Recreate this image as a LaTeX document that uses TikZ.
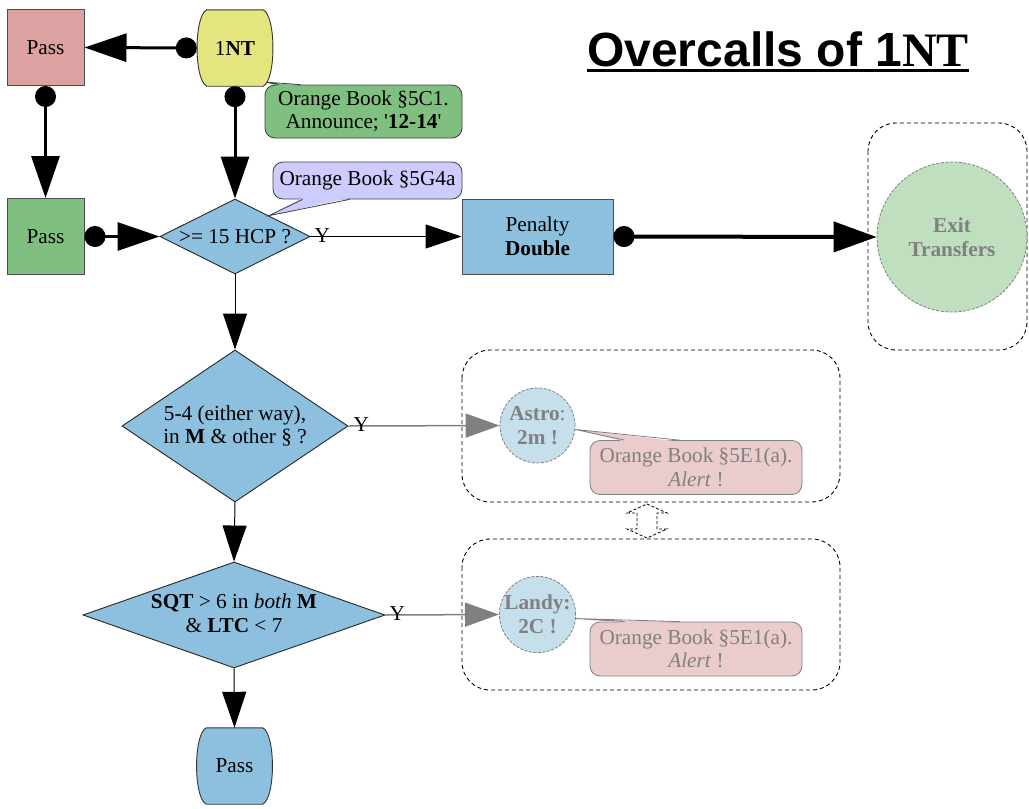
\documentclass[tikz,border=0pt]{standalone}
\usepackage{fontspec}
\setmainfont{Liberation Serif}
\newfontfamily\titlesans{Liberation Sans}
\usetikzlibrary{arrows.meta,shapes.geometric,backgrounds,calc}

\definecolor{passpink}{HTML}{DCA1A1}
\definecolor{ntyellow}{HTML}{E5E57F}
\definecolor{okgreen}{HTML}{7FBF7F}
\definecolor{qblue}{HTML}{8DC0DE}
\definecolor{notelav}{HTML}{CCCCFF}
\definecolor{exitgreen}{HTML}{BFDFBF}
\definecolor{convblue}{HTML}{C5DFEB}
\definecolor{alertpink}{HTML}{EBCCCC}
\definecolor{dimtext}{HTML}{808080}

\tikzset{
  txt/.style={font=\fontsize{21.25}{23.5}\selectfont, align=center, inner sep=0pt},
  box/.style={txt, draw=black!70, line width=1pt, minimum width=77pt, minimum height=76pt},
  decision/.style={draw=black!85, line width=0.9pt, fill=qblue, diamond, inner sep=0pt},
  barrelnode/.style={txt, minimum width=76pt, minimum height=76pt},
  barrelline/.style={draw=black!80, line width=0.9pt},
  convcircle/.style={txt, circle, draw=dimtext, dash pattern=on 3pt off 1.5pt, line width=0.8pt,
    fill=convblue, text=dimtext, minimum size=75pt, font=\bfseries\fontsize{21.25}{23.5}\selectfont},
  notebox/.style={txt, rectangle, rounded corners=10pt, draw=black!75, line width=0.8pt},
  alertbox/.style={notebox, fill=alertpink, draw=dimtext, text=dimtext, minimum width=212pt, minimum height=54pt},
  group/.style={draw=black, dash pattern=on 4pt off 3pt, rounded corners=28pt, line width=0.9pt},
  thickarr/.style={line width=3pt, {Circle[length=21pt]}-{Triangle[length=42pt,width=28pt]}},
  widearr/.style={line width=4pt, {Circle[length=21pt]}-{Triangle[length=43pt,width=30pt]}},
  thinarr/.style={line width=1pt, -{Triangle[length=36pt,width=24pt]}},
  grayarr/.style={line width=1.5pt, draw=dimtext, -{Triangle[length=34pt,width=24pt,fill=dimtext]}},
  ylab/.style={txt, anchor=west},
}

\begin{document}
\begin{tikzpicture}[x=1pt,y=-1pt]
\useasboundingbox (0,0) rectangle (1029,809);

% title
\node[inner sep=0pt, anchor=base] (title) at (778,66)
  {\fontsize{48}{52}\selectfont\bfseries{\titlesans Overcalls of 1}NT};
\draw[line width=3pt] ([yshift=-4.5pt]title.base west) -- ([yshift=-4.5pt]title.base east);

% dashed groups
\draw[group] (868,123) rectangle (1027,350);
\draw[group] (462,350) rectangle (840,502);
\draw[group] (462,539) rectangle (840,690);
% hollow double arrow between the two convention groups
\draw[line width=0.8pt, dash pattern=on 3pt off 2pt]
  (647,504) -- (667,513) -- (657,513) -- (657,529) -- (667,529) -- (647,538)
  -- (627,529) -- (637,529) -- (637,513) -- (627,513) -- cycle;

% opening bid and passes
\node[box, fill=passpink] (p1) at (45.5,47.5) {Pass};
\node[barrelnode] (nt) at (235,48) {1\textbf{NT}};
\node[box, fill=okgreen] (p2) at (45.5,236.5) {Pass};
\node[barrelnode] (pb) at (234.5,766) {Pass};

\begin{scope}[on background layer]
  \path[barrelline, fill=ntyellow]
    ([xshift=-10pt]nt.north east) .. controls ([xshift=3pt,yshift=-6pt]nt.north east) and ([xshift=3pt,yshift=6pt]nt.south east) .. ([xshift=-10pt]nt.south east)
    -- ([xshift=10pt]nt.south west) .. controls ([xshift=-3pt,yshift=6pt]nt.south west) and ([xshift=-3pt,yshift=-6pt]nt.north west) .. ([xshift=10pt]nt.north west) -- cycle;
  \path[barrelline, fill=qblue]
    ([xshift=-10pt]pb.north east) .. controls ([xshift=3pt,yshift=-6pt]pb.north east) and ([xshift=3pt,yshift=6pt]pb.south east) .. ([xshift=-10pt]pb.south east)
    -- ([xshift=10pt]pb.south west) .. controls ([xshift=-3pt,yshift=6pt]pb.south west) and ([xshift=-3pt,yshift=-6pt]pb.north west) .. ([xshift=10pt]pb.north west) -- cycle;
\end{scope}

% questions
\node[decision, minimum width=150pt, minimum height=75pt] (q1) at (235,236.5) {};
\node[txt] (q1t) at (q1) {>= 15 HCP ?};
\node[decision, minimum width=226pt, minimum height=152pt] (q2) at (235,426) {};
\node[txt] (q2t) at (q2) {5-4 (either way),\\ in \textbf{M} \& other § ?};
\node[decision, minimum width=302pt, minimum height=106pt] (q3) at (234,615) {};
\node[txt] (q3t) at ([yshift=2pt]q3.center) {\textbf{SQT} > 6 in \textit{both} \textbf{M}\\ \& \textbf{LTC} < 7};

% outcomes
\node[box, fill=qblue, minimum width=151pt, minimum height=75pt] (pen) at (537.5,236.5) {Penalty\\ \textbf{Double}};
\node[convcircle, minimum size=150pt, fill=exitgreen] (exit) at (952,237) {Exit\\ Transfers};
\node[convcircle] (astro) at (537.5,425.5) {Astro\mdseries:\\ 2m !};
\node[convcircle] (landy) at (537.5,614.5) {Landy:\\ 2C !};

% notes
\node[notebox, fill=okgreen, minimum width=197pt, minimum height=53pt] (n1) at (363.5,111.5)
  {Orange Book §5C1.\\ Announce; \textquotesingle\textbf{12-14}\textquotesingle};
\node[notebox, fill=notelav, minimum width=189pt, minimum height=37pt] (n2) at (367.5,180.5)
  {Orange Book §5G4a};
\node[alertbox] (a1) at (696,467.5) {Orange Book §5E1(a).\\ \textit{Alert} !};
\node[alertbox] (a2) at (696,649) {Orange Book §5E1(a).\\ \textit{Alert} !};

% note tails
\coordinate (n1tip) at ([xshift=-7pt,yshift=4pt]nt.south east);
\fill[okgreen] ([xshift=14pt,yshift=-1.5pt]n1.north west) -- (n1tip) -- ([xshift=36pt,yshift=-1.5pt]n1.north west) -- cycle;
\draw[draw=black!75, line width=0.8pt] ([xshift=14pt]n1.north west) -- (n1tip) -- ([xshift=36pt]n1.north west);

\coordinate (n2tip) at ($(q1.north)!0.45!(q1.east)$);
\fill[notelav] ([xshift=30pt,yshift=1.5pt]n2.south west) -- (n2tip) -- ([xshift=77pt,yshift=1.5pt]n2.south west) -- cycle;
\draw[draw=black!75, line width=0.8pt] ([xshift=30pt]n2.south west) -- (n2tip) -- ([xshift=77pt]n2.south west);

\coordinate (a1tip) at (astro.-6);
\fill[alertpink] ([xshift=35pt,yshift=-1.5pt]a1.north west) -- (a1tip) -- ([xshift=90pt,yshift=-1.5pt]a1.north west) -- cycle;
\draw[draw=dimtext, line width=0.8pt] ([xshift=35pt]a1.north west) -- (a1tip) -- ([xshift=90pt]a1.north west);

\coordinate (a2tip) at (landy.-6);
\fill[alertpink] ([xshift=35pt,yshift=-1.5pt]a2.north west) -- (a2tip) -- ([xshift=90pt,yshift=-1.5pt]a2.north west) -- cycle;
\draw[draw=dimtext, line width=0.8pt] ([xshift=35pt]a2.north west) -- (a2tip) -- ([xshift=90pt]a2.north west);

% connectors
\draw[thickarr] (nt.west) -- (p1.east);
\draw[thickarr] (p1.south) -- (p2.north);
\draw[thickarr] (nt.south) -- (q1.north);
\draw[thickarr] (p2.east) -- (q1.west);
\draw[thinarr] (q1.east) -- (pen.west);
\draw[widearr] (pen.east) -- (exit.west);
\draw[thinarr] (q1.south) -- (q2.north);
\draw[thinarr] (q2.south) -- (q3.north);
\draw[thinarr] (q3.south) -- (pb.north);
\draw[grayarr] (q2.east) -- (astro.west);
\draw[grayarr] (q3.east) -- (landy.west);

% yes labels
\node[ylab] (y1) at ([xshift=4pt,yshift=1pt]q1.east) {Y};
\node[ylab] (y2) at ([xshift=5pt,yshift=1pt]q2.east) {Y};
\node[ylab] (y3) at ([xshift=4pt,yshift=1pt]q3.east) {Y};
\end{tikzpicture}
\end{document}
